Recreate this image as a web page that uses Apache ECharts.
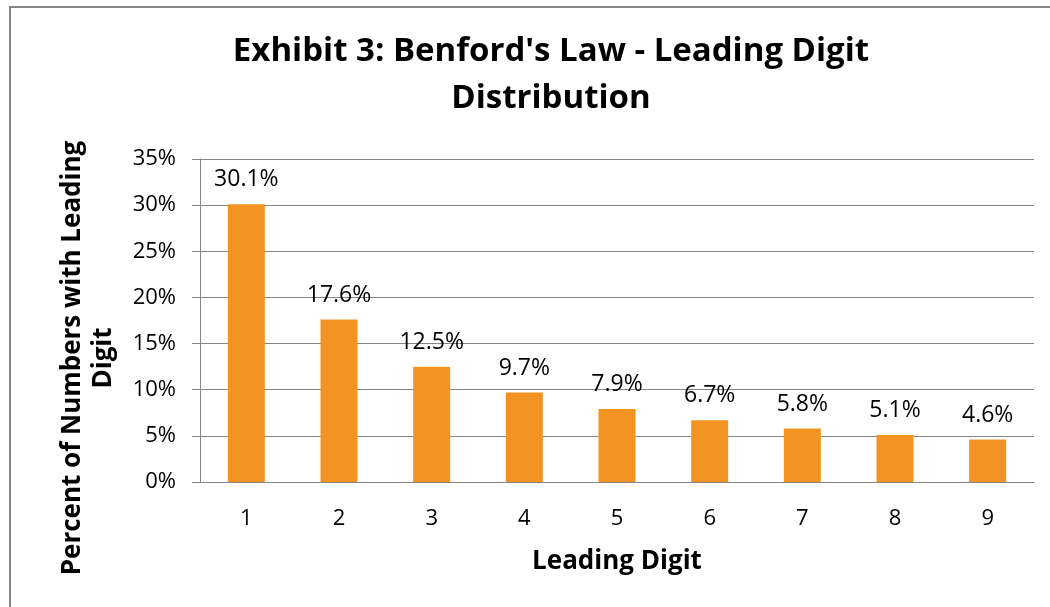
<!DOCTYPE html>
<html>
<head>
<meta charset="utf-8">
<script src="https://cdn.jsdelivr.net/npm/echarts@6/dist/echarts.min.js"></script>
<style>
  html, body { margin: 0; padding: 0; background: #fff; }
  #chart { width: 1050px; height: 607px; }
</style>
</head>
<body>
<div id="chart"></div>
<script>
const digits = ['1', '2', '3', '4', '5', '6', '7', '8', '9']
const percents = [30.1, 17.6, 12.5, 9.7, 7.9, 6.7, 5.8, 5.1, 4.6]
const yTicks = [0, 5, 10, 15, 20, 25, 30, 35]

const font = '"Open Sans", "Liberation Sans", sans-serif'
const lineColor = '#868686'

const chart = echarts.init(document.getElementById('chart'))

chart.setOption({
  backgroundColor: '#fff',
  animation: false,
  textStyle: { fontFamily: font },
  title: {
    text: 'Exhibit 3: Benford\'s Law - Leading Digit\nDistribution',
    left: 546,
    textAlign: 'center',
    top: 23,
    textStyle: {
      fontFamily: font,
      fontSize: 33,
      fontWeight: 'bold',
      color: '#000',
      lineHeight: 47
    }
  },
  graphic: [{
    type: 'rect',
    shape: { x: 10, y: 7, width: 1200, height: 800 },
    style: { fill: null, stroke: lineColor, lineWidth: 2 },
    silent: true
  }, {
    type: 'text',
    x: 88,
    y: 358,
    rotation: Math.PI / 2,
    style: {
      text: 'Percent of Numbers with Leading\nDigit',
      font: 'bold 26px ' + font,
      fill: '#000',
      align: 'center',
      verticalAlign: 'middle',
      lineHeight: 31
    }
  }],
  grid: {
    left: 200,
    right: 16,
    top: 159,
    bottom: 125
  },
  xAxis: {
    type: 'category',
    data: digits,
    name: 'Leading Digit',
    nameLocation: 'middle',
    nameGap: 67,
    nameTextStyle: { fontFamily: font, fontSize: 26, fontWeight: 'bold', color: '#000' },
    axisLine: { lineStyle: { color: lineColor, width: 1 } },
    axisTick: { length: 8, lineStyle: { color: lineColor } },
    axisLabel: { fontFamily: font, fontSize: 22, color: '#000', margin: 26 }
  },
  yAxis: {
    type: 'value',
    min: yTicks[0],
    max: yTicks[yTicks.length - 1],
    interval: 5,
    axisLine: { show: true, lineStyle: { color: lineColor, width: 1 } },
    axisTick: { show: true, length: 8, lineStyle: { color: lineColor } },
    axisLabel: {
      fontFamily: font,
      fontSize: 22,
      color: '#000',
      margin: 24,
      formatter: v => v + '%'
    },
    splitLine: { lineStyle: { color: lineColor, width: 1 } }
  },
  series: [{
    type: 'bar',
    data: percents,
    barWidth: 37,
    itemStyle: { color: '#F39321' },
    label: {
      show: true,
      position: 'top',
      distance: 13,
      fontFamily: font,
      fontSize: 23,
      color: '#000',
      formatter: p => p.value.toFixed(1) + '%'
    }
  }]
})
</script>
</body>
</html>
